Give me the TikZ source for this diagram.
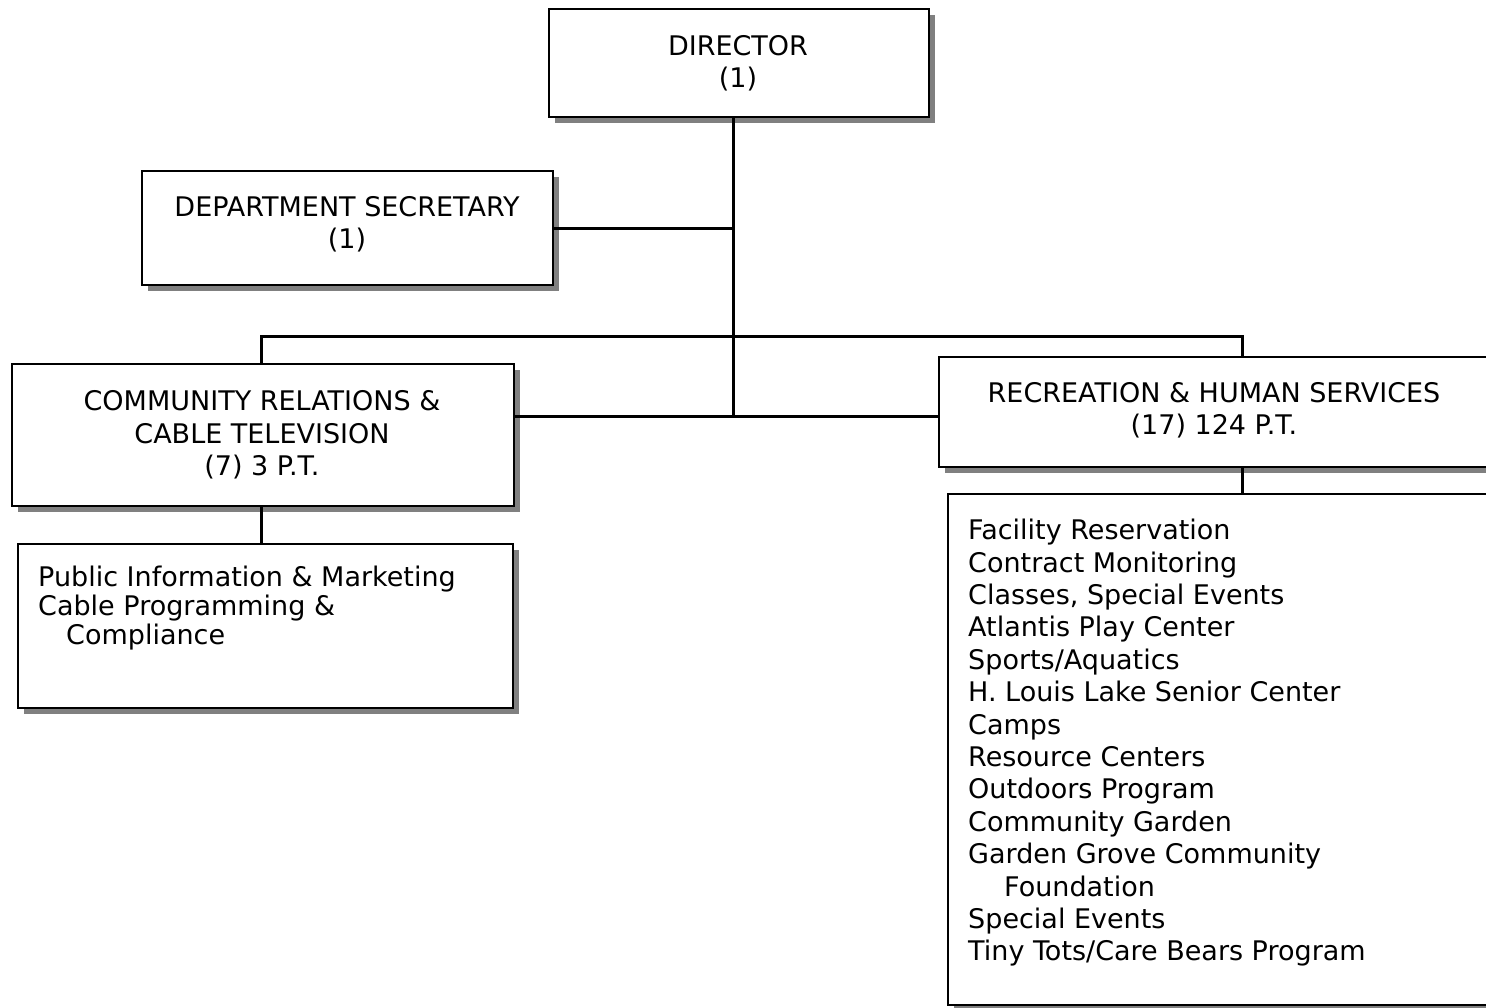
\documentclass[tikz,border=0pt]{standalone}
\usepackage{fontspec}
\setmainfont{DejaVu Sans}
\usetikzlibrary{shadows}
\begin{document}
\begin{tikzpicture}[x=1pt,y=-1pt,
  box/.style={draw=black, line width=2pt, fill=white, inner sep=0pt, anchor=north west,
    drop shadow={shadow xshift=6pt, shadow yshift=-6pt, fill=black!50, opacity=1}},
  txt/.style={font=\fontsize{27}{32.4}\selectfont, align=center, inner sep=0pt},
  ltxt/.style={font=\fontsize{27}{32.4}\selectfont, align=left, inner sep=0pt, anchor=north west},
  conn/.style={line width=3pt}]
\useasboundingbox (0,0) rectangle (1486,1007);
\clip (0,0) rectangle (1486,1007);
% boxes
\node[box, minimum width=380pt, minimum height=108pt] (dir) at (548,8) {};
\node[box, minimum width=411pt, minimum height=114pt] (sec) at (141,170) {};
\node[box, minimum width=502pt, minimum height=142pt] (cr) at (11,363) {};
\node[box, minimum width=495pt, minimum height=164pt] (pub) at (17,543) {};
\node[box, minimum width=560pt, minimum height=110pt] (rec) at (938,356) {};
\node[box, minimum width=560pt, minimum height=511pt] (lst) at (947,493) {};
% texts
\node[txt] (dirt) at (738,63) {DIRECTOR\\(1)};
\node[txt] (sect) at (347,224) {DEPARTMENT SECRETARY\\(1)};
\node[txt] (crt) at (262,435) {COMMUNITY RELATIONS \&\\CABLE TELEVISION\\(7) 3 P.T.};
\node[txt] (rect) at (1214,410) {RECREATION \& HUMAN SERVICES\\(17) 124 P.T.};
\node[ltxt, font=\fontsize{27}{29}\selectfont] (pubt) at (38,566) {Public Information \& Marketing\\Cable Programming \&\\\hspace*{28pt}Compliance};
\node[ltxt] (lstt) at (968,519) {Facility Reservation\\Contract Monitoring\\Classes, Special Events\\Atlantis Play Center\\Sports/Aquatics\\H. Louis Lake Senior Center\\Camps\\Resource Centers\\Outdoors Program\\Community Garden\\Garden Grove Community\\\hspace*{36pt}Foundation\\Special Events\\Tiny Tots/Care Bears Program};
% junction points
\coordinate (mid) at (733,416);
\coordinate (lft) at (261,336);
\coordinate (rgt) at (1242,336);
% connectors
\draw[conn] (dir.south -| mid) -- (mid);
\draw[conn] (sec.east) -- (sec.east -| mid);
\draw[conn] (cr.east |- mid) -- (rec.west |- mid);
\draw[conn] (cr.north -| lft) -- (lft) -- (rgt) -- (rec.north -| rgt);
\draw[conn] (cr.south -| lft) -- (pub.north -| lft);
\draw[conn] (rec.south -| rgt) -- (lst.north -| rgt);
\end{tikzpicture}
\end{document}
